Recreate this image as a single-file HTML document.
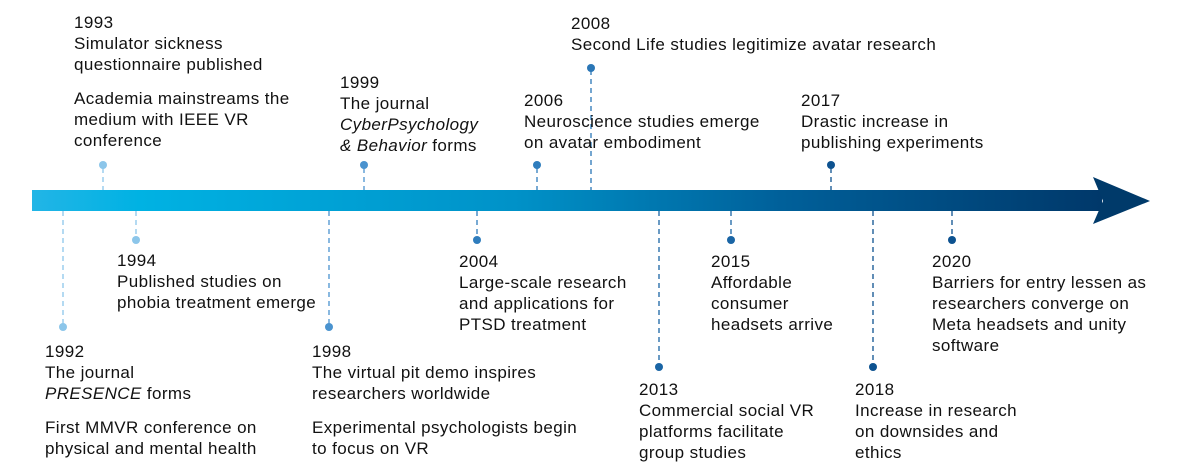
<!DOCTYPE html>
<html><head><style>
body{margin:0;width:1186px;height:475px;background:#fff;position:relative;overflow:hidden;font-family:"Liberation Sans",sans-serif;color:#111;}
.t{position:absolute;font-size:17px;letter-spacing:0.4px;line-height:21px;white-space:nowrap;}
.g{height:13px}
</style></head><body>
<svg width="1186" height="475" style="position:absolute;left:0;top:0">
<defs><linearGradient id="gr" x1="0" x2="1"><stop offset="0" stop-color="#22b5e6"/><stop offset="0.1" stop-color="#00b2e3"/><stop offset="0.45" stop-color="#0092c8"/><stop offset="0.7" stop-color="#00609a"/><stop offset="1" stop-color="#00386a"/></linearGradient></defs>
<rect x="32" y="190" width="1070" height="21" fill="url(#gr)"/>
<polygon points="1093,177 1150,201 1093,224 1103,201" fill="#003a6a"/>
<g stroke-dasharray="5,4" stroke-width="1.3" fill="none">
<line x1="103" y1="168" x2="103" y2="190" stroke="#8cc6ea"/>
<line x1="136" y1="211" x2="136" y2="240" stroke="#8cc6ea"/>
<line x1="63" y1="211" x2="63" y2="327" stroke="#8cc6ea"/>
<line x1="364" y1="168" x2="364" y2="190" stroke="#4a93cf"/>
<line x1="329" y1="211" x2="329" y2="327" stroke="#4a93cf"/>
<line x1="477" y1="211" x2="477" y2="240" stroke="#2f7dbd"/>
<line x1="537" y1="168" x2="537" y2="190" stroke="#2f7dbd"/>
<line x1="591" y1="70" x2="591" y2="190" stroke="#2a76b6"/>
<line x1="659" y1="211" x2="659" y2="367" stroke="#1a65a5"/>
<line x1="731" y1="211" x2="731" y2="240" stroke="#1a65a5"/>
<line x1="831" y1="168" x2="831" y2="190" stroke="#0d5290"/>
<line x1="873" y1="211" x2="873" y2="367" stroke="#0d5290"/>
<line x1="952" y1="211" x2="952" y2="240" stroke="#0d5290"/>
</g>
<circle cx="103" cy="165" r="4" fill="#8cc6ea"/>
<circle cx="136" cy="240" r="4" fill="#8cc6ea"/>
<circle cx="63" cy="327" r="4" fill="#8cc6ea"/>
<circle cx="364" cy="165" r="4" fill="#4a93cf"/>
<circle cx="329" cy="327" r="4" fill="#4a93cf"/>
<circle cx="477" cy="240" r="4" fill="#2f7dbd"/>
<circle cx="537" cy="165" r="4" fill="#2f7dbd"/>
<circle cx="591" cy="68" r="4" fill="#2a76b6"/>
<circle cx="659" cy="367" r="4" fill="#1a65a5"/>
<circle cx="731" cy="240" r="4" fill="#1a65a5"/>
<circle cx="831" cy="165" r="4" fill="#0d5290"/>
<circle cx="873" cy="367" r="4" fill="#0d5290"/>
<circle cx="952" cy="240" r="4" fill="#0d5290"/>
</svg>
<div class="t" style="left:74px;top:12px">1993<br>Simulator sickness<br>questionnaire published<div class="g"></div>Academia mainstreams the<br>medium with IEEE VR<br>conference</div>
<div class="t" style="left:117px;top:250px">1994<br>Published studies on<br>phobia treatment emerge</div>
<div class="t" style="left:45px;top:341px">1992<br>The journal<br><i>PRESENCE</i> forms<div class="g"></div>First MMVR conference on<br>physical and mental health</div>
<div class="t" style="left:340px;top:72px">1999<br>The journal<br><i>CyberPsychology</i><br><i>&amp; Behavior</i> forms</div>
<div class="t" style="left:312px;top:341px">1998<br>The virtual pit demo inspires<br>researchers worldwide<div class="g"></div>Experimental psychologists begin<br>to focus on VR</div>
<div class="t" style="left:459px;top:251px">2004<br>Large-scale research<br>and applications for<br>PTSD treatment</div>
<div class="t" style="left:524px;top:90px">2006<br>Neuroscience studies emerge<br>on avatar embodiment</div>
<div class="t" style="left:571px;top:13px">2008<br>Second Life studies legitimize avatar research</div>
<div class="t" style="left:639px;top:379px">2013<br>Commercial social VR<br>platforms facilitate<br>group studies</div>
<div class="t" style="left:711px;top:251px">2015<br>Affordable<br>consumer<br>headsets arrive</div>
<div class="t" style="left:801px;top:90px">2017<br>Drastic increase in<br>publishing experiments</div>
<div class="t" style="left:855px;top:379px">2018<br>Increase in research<br>on downsides and<br>ethics</div>
<div class="t" style="left:932px;top:251px">2020<br>Barriers for entry lessen as<br>researchers converge on<br>Meta headsets and unity<br>software</div>
</body></html>
